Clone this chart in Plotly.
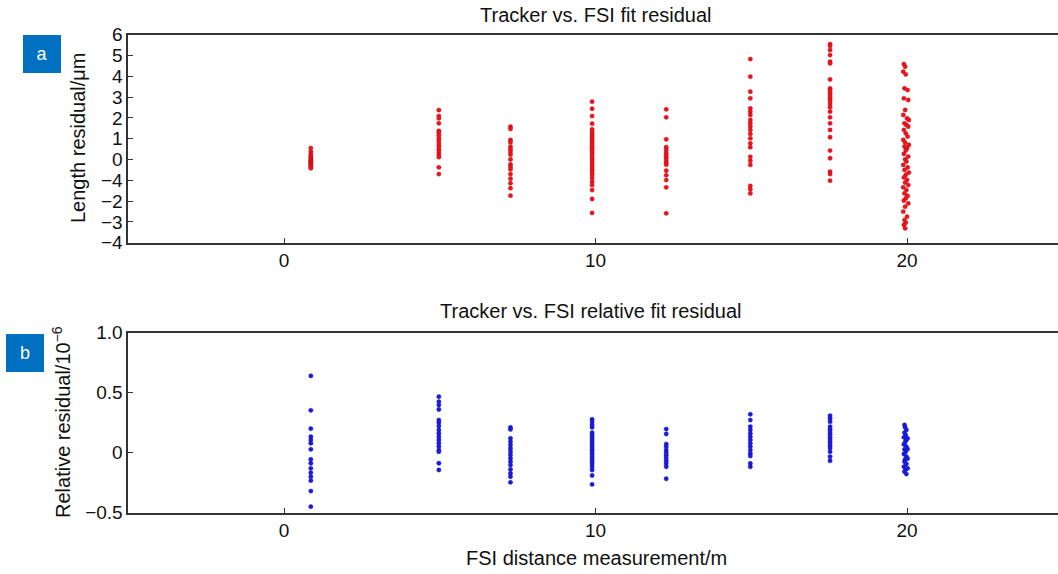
import plotly.graph_objects as go

W, H = 1058, 574

# ---- data -------------------------------------------------------------
cluster_x = [0.86, 4.97, 7.27, 9.89, 12.27, 14.97, 17.53, 19.94]

len_c1 = [0.55, 0.38, 0.25, 0.15, 0.08, 0.02, -0.04, -0.10, -0.15, -0.20, -0.25, -0.30, -0.36, -0.42]
len_c2 = [2.37, 2.09, 1.98, 1.74, 1.38, 1.29, 1.16, 1.02, 0.89, 0.75, 0.62, 0.49, 0.36, 0.23, 0.11, -0.375, -0.70]
len_c3 = [1.58, 1.47, 0.94, 0.83, 0.62, 0.49, 0.36, 0.23, 0.005, -0.23, -0.35, -0.47, -0.70, -0.92, -1.14, -1.38, -1.74]
len_c4 = [2.78, 2.44, 2.09, 1.72, 1.45, 1.32, 1.23, 1.13, 1.02, 0.90, 0.81, 0.70, 0.59, 0.49, 0.375, 0.26,
          0.135, 0.01, -0.11, -0.22, -0.35, -0.47, -0.60, -0.74, -0.89, -1.07, -1.23, -1.47, -1.90, -2.57]
len_c5 = [2.41, 2.03, 0.97, 0.59, 0.46, 0.33, 0.22, 0.11, -0.02, -0.15, -0.25, -0.54, -0.76, -0.99, -1.34, -2.59]
len_c6 = [4.83, 3.98, 3.26, 2.94, 2.46, 2.30, 2.14, 1.90, 1.74, 1.58, 1.42, 1.23, 1.02, 0.78, 0.59, 0.13,
          -0.06, -0.26, -1.27, -1.43, -1.63]
len_c7 = [5.55, 5.46, 5.26, 5.02, 4.70, 4.62, 3.85, 3.42, 3.31, 3.18, 3.05, 2.94, 2.83, 2.67, 2.51, 2.30,
          2.03, 1.74, 1.42, 1.07, 0.43, 0.06, -0.59, -0.70, -1.02]
len_c8 = [4.59, 4.46, 4.22, 4.09, 3.42, 3.34, 2.94, 2.86, 2.38, 2.14, 1.98, 1.90, 1.74, 1.66, 1.58, 1.42,
          1.26, 1.10, 0.94, 0.81, 0.70, 0.62, 0.54, 0.43, 0.27, 0.14, 0.01, -0.10, -0.26, -0.38, -0.50,
          -0.63, -0.74, -0.86, -0.98, -1.11, -1.23, -1.34, -1.47, -1.63, -1.75, -1.87, -1.98, -2.11,
          -2.27, -2.51, -2.75, -2.91, -3.04, -3.15, -3.31]
len_c8_x = [19.90, 19.94, 19.88, 19.96, 19.92, 20.02, 19.90, 20.04, 19.94, 19.88, 20.00, 20.06, 19.92,
            19.98, 20.04, 19.90, 19.96, 20.02, 19.88, 19.94, 20.06, 19.92, 20.00, 19.96, 19.90, 20.04,
            19.94, 19.98, 19.88, 20.02, 19.92, 20.06, 19.96, 19.90, 20.00, 19.94, 20.04, 19.88, 19.98,
            19.92, 20.02, 19.96, 19.90, 20.04, 19.94, 19.88, 20.00, 19.92, 19.96, 19.90, 19.94]

rel_c1 = [0.64, 0.353, 0.20, 0.133, 0.106, 0.078, 0.028, -0.055, -0.088, -0.13, -0.167, -0.20, -0.233, -0.32, -0.45]
rel_c2 = [0.467, 0.425, 0.397, 0.36, 0.272, 0.25, 0.222, 0.19, 0.162, 0.133, 0.106, 0.078, 0.05, 0.022, 0.008, -0.088, -0.144]
rel_c3 = [0.211, 0.194, 0.12, 0.092, 0.064, 0.036, 0.008, -0.019, -0.047, -0.075, -0.103, -0.139, -0.172, -0.20, -0.247]
rel_c4 = [0.278, 0.256, 0.231, 0.211, 0.167, 0.147, 0.128, 0.106, 0.089, 0.069, 0.05, 0.028, 0.008,
          -0.011, -0.033, -0.055, -0.075, -0.094, -0.117, -0.144, -0.19, -0.264]
rel_c5 = [0.197, 0.156, 0.072, 0.05, 0.022, 0.0, -0.022, -0.044, -0.067, -0.089, -0.117, -0.217]
rel_c6 = [0.32, 0.272, 0.217, 0.189, 0.161, 0.133, 0.106, 0.078, 0.05, 0.022, -0.006, -0.028, -0.089, -0.117]
rel_c7 = [0.308, 0.286, 0.258, 0.217, 0.194, 0.172, 0.15, 0.128, 0.106, 0.083, 0.061, 0.039, 0.008, -0.033, -0.067]
rel_c8 = [0.231, 0.211, 0.19, 0.167, 0.147, 0.128, 0.106, 0.089, 0.069, 0.05, 0.028, 0.008, -0.011,
          -0.033, -0.055, -0.075, -0.094, -0.117, -0.139, -0.158, -0.178, 0.12, 0.03, -0.05, -0.13]
rel_c8_x = [19.92, 19.94, 19.98, 19.92, 19.96, 19.90, 19.98, 19.94, 19.90, 19.98, 19.92, 19.96, 19.90,
            19.98, 19.94, 19.92, 19.98, 19.90, 19.96, 19.92, 19.98, 20.02, 20.02, 20.02, 20.02]

x_ticks = [0, 10, 20]
len_tickvals = [6, 5, 4, 3, 2, 1, 0, -1, -2, -3, -4]
len_ticktext = ["6", "5", "4", "3", "2", "1", "0", "\u22124", "\u22122", "\u22123", "\u22124"]
rel_tickvals = [1.0, 0.5, 0, -0.5]
rel_ticktext = ["1.0", "0.5", "0", "\u22120.5"]

# ---- build --------------------------------------------------------------
len_groups = [len_c1, len_c2, len_c3, len_c4, len_c5, len_c6, len_c7]
rel_groups = [rel_c1, rel_c2, rel_c3, rel_c4, rel_c5, rel_c6, rel_c7]

len_x, len_y = [], []
for cx, vals in zip(cluster_x[:7], len_groups):
    len_x += [cx] * len(vals)
    len_y += vals
len_x += len_c8_x
len_y += len_c8

rel_x, rel_y = [], []
for cx, vals in zip(cluster_x[:7], rel_groups):
    rel_x += [cx] * len(vals)
    rel_y += vals
rel_x += rel_c8_x
rel_y += rel_c8

FONT = "Liberation Sans, Arial, sans-serif"
AX = "#333333"

fig = go.Figure()
fig.add_trace(go.Scatter(x=len_x, y=len_y, mode="markers", xaxis="x", yaxis="y",
                         marker=dict(size=4.3, color="#ff1010", line=dict(width=0.4, color="#8a1030")),
                         showlegend=False))
fig.add_trace(go.Scatter(x=rel_x, y=rel_y, mode="markers", xaxis="x2", yaxis="y2",
                         marker=dict(size=4.3, color="#1a1af0", line=dict(width=0.4, color="#101080")),
                         showlegend=False))

def px_x(p):
    return p / W

def px_y(p):
    return 1 - p / H

left = px_x(128.3)
xr = [-5, (W - 284) / 31.15]

common_x = dict(range=xr, tickvals=x_ticks, ticks="inside", ticklen=5, tickwidth=1.2, tickcolor=AX,
                showline=True, linecolor=AX, linewidth=1.6, mirror=True, showgrid=False, zeroline=False,
                automargin=False, tickfont=dict(size=19, color="#111", family=FONT))
common_y = dict(ticks="inside", ticklen=5, tickwidth=1.2, tickcolor=AX, showline=True, linecolor=AX,
                linewidth=1.6, mirror=False, showgrid=False, zeroline=False, automargin=False,
                tickfont=dict(size=19, color="#111", family=FONT))

fig.update_layout(
    template="none",
    width=W, height=H, autosize=False, margin=dict(l=0, r=0, t=0, b=0, pad=0),
    paper_bgcolor="white", plot_bgcolor="white",
    font=dict(family=FONT, color="#111"),
    xaxis=dict(domain=[left, 1], anchor="y", **common_x),
    yaxis=dict(domain=[px_y(242.7), px_y(34.7)], anchor="x", range=[-4, 6],
               tickvals=len_tickvals, ticktext=len_ticktext, **common_y),
    xaxis2=dict(domain=[left, 1], anchor="y2", **common_x),
    yaxis2=dict(domain=[px_y(512.7), px_y(332.7)], anchor="x2", range=[-0.5, 1.0],
                tickvals=rel_tickvals, ticktext=rel_ticktext, **common_y),
)

ann = [
    dict(text="Tracker vs. FSI fit residual", x=px_x(596), y=px_y(15), size=20, angle=0),
    dict(text="Tracker vs. FSI relative fit residual", x=px_x(591), y=px_y(311), size=20, angle=0),
    dict(text="FSI distance measurement/m", x=px_x(596), y=px_y(558), size=20, angle=0),
    dict(text="Length residual/\u03bcm", x=px_x(78), y=px_y(138), size=20, angle=-90),
    dict(text="Relative residual/10<sup>\u22126</sup>", x=px_x(61), y=px_y(422), size=20, angle=-90),
]
for a in ann:
    fig.add_annotation(text=a["text"], x=a["x"], y=a["y"], xref="paper", yref="paper",
                       showarrow=False, textangle=a["angle"], xanchor="center", yanchor="middle",
                       font=dict(size=a["size"], family=FONT, color="#111"))

for lbl, x0, y0 in [("a", 23, 35), ("b", 6, 334)]:
    fig.add_annotation(text=lbl, x=px_x(x0), y=px_y(y0), xref="paper", yref="paper",
                       xanchor="left", yanchor="top", showarrow=False,
                       width=38, height=38, align="center", valign="middle",
                       bgcolor="#0070c0", borderwidth=0, borderpad=0,
                       font=dict(size=18, family=FONT, color="white"))

fig.write_html("out.html", config={"responsive": False, "displayModeBar": False},
               post_script="document.body.style.margin='0';document.body.style.overflow='hidden';")
